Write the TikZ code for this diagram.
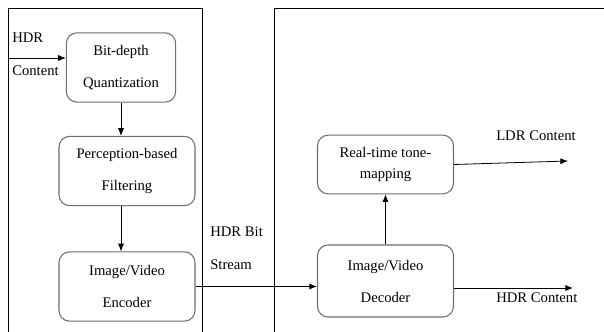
\documentclass[tikz,border=0pt]{standalone}
\usepackage{fontspec}
\setmainfont{Liberation Serif}
\usetikzlibrary{arrows.meta,positioning,calc}
\definecolor{boxgray}{RGB}{110,110,110}
\tikzset{
  block/.style={rectangle, rounded corners=8pt, draw=boxgray, line width=0.8pt,
                minimum width=102pt, minimum height=52pt, align=center,
                font=\fontsize{11}{24}\selectfont},
  blocktight/.style={block, font=\fontsize{11}{16}\selectfont},
  arrow/.style={-{Latex[length=2mm,width=1.6mm]}, line width=0.6pt},
  panel/.style={line width=0.7pt},
  label/.style={font=\fontsize{11}{25}\selectfont, align=left, anchor=west, inner sep=0pt},
}

\begin{document}
\begin{tikzpicture}[x=0.75pt,y=-0.75pt]
\useasboundingbox (0,0) rectangle (604,332);

% encoder side and decoder side
\draw[panel] (8,332) -- (8,8) -- (202,8) -- (202,332);
\draw[panel] (274,332) -- (274,8) -- (604,8);

\node[block, minimum width=82pt] (quant) at (121,67.5) {Bit-depth\\Quantization};
\node[block] (filter) at (127,171) {Perception-based\\Filtering};
\node[block] (encoder) at (127,286.5) {Image/Video\\Encoder};
\node[blocktight, minimum height=44pt] (tonemap) at (385.5,164.5) {Real-time tone-\\mapping};
\node[block, minimum height=54pt] (decoder) at (385.5,281) {Image/Video\\Decoder};

\coordinate (hdrin) at (8,58);
\coordinate (ldrout) at (568,161);
\coordinate (hdrout) at (573,288);

\node[label] (hdrinlbl) at (12,54) {HDR\\Content};
\node[label] (streamlbl) at (210,248) {HDR Bit\\Stream};
\node[label] (ldrlbl) at (496,136) {LDR Content};
\node[label] (hdroutlbl) at (496,298) {HDR Content};

\draw[arrow] (hdrin) -- (hdrin -| quant.west);
\draw[arrow] (quant.south) -- (quant.south |- filter.north);
\draw[arrow] (filter.south -| quant.south) -- (encoder.north -| quant.south);
\draw[arrow] (encoder.east) -- (encoder.east -| decoder.west);
\draw[arrow] (decoder.north) -- (tonemap.south);
\draw[arrow] (tonemap.east) -- (ldrout);
\draw[arrow] (decoder.east |- hdrout) -- (hdrout);
\end{tikzpicture}
\end{document}
